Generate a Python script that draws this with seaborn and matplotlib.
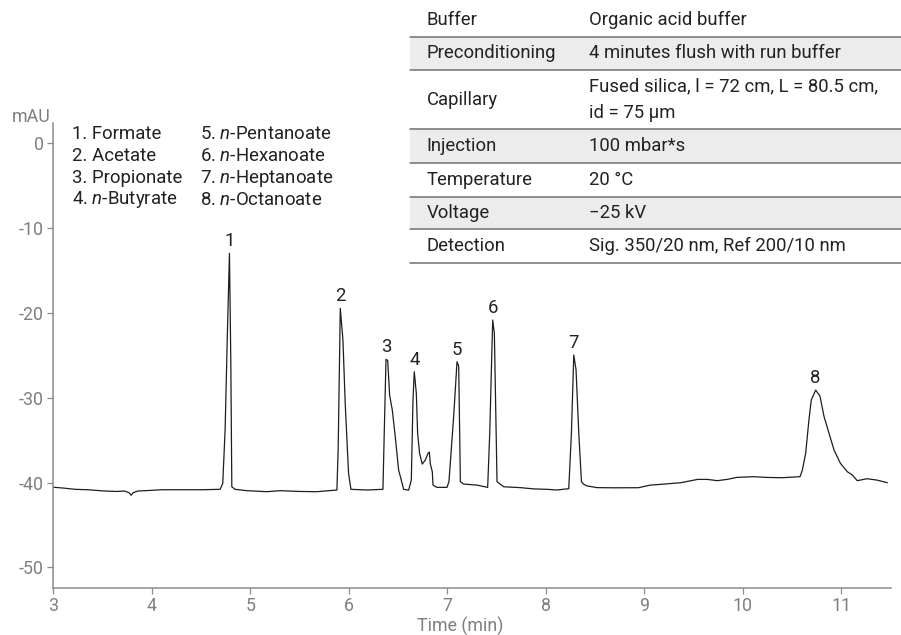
import matplotlib
matplotlib.use("Agg")
import matplotlib.pyplot as plt
import matplotlib.patches as mpatches
import matplotlib.lines as mlines
import seaborn as sns
import pandas as pd

# ---------------- data ----------------
time_min = [3.00, 3.10, 3.22, 3.35, 3.52, 3.65, 3.72, 3.77, 3.79, 3.81, 3.86, 3.95, 4.10, 4.30,
            4.50, 4.693, 4.720, 4.744, 4.768, 4.788, 4.802, 4.812, 4.846, 4.964, 5.167, 5.303,
            5.50, 5.675, 5.879, 5.892, 5.913, 5.940, 5.963, 5.997, 6.021, 6.184, 6.346, 6.360,
            6.377, 6.394, 6.414, 6.441, 6.471, 6.505, 6.556, 6.607, 6.634, 6.651, 6.664, 6.685,
            6.698, 6.718, 6.745, 6.776, 6.803, 6.817, 6.827, 6.847, 6.854, 6.894, 6.996, 7.016,
            7.064, 7.098, 7.115, 7.132, 7.165, 7.300, 7.409, 7.430, 7.460, 7.477, 7.504, 7.572,
            7.740, 7.877, 8.010, 8.114, 8.232, 8.259, 8.283, 8.306, 8.334, 8.361, 8.384, 8.418,
            8.520, 8.700, 8.940, 9.060, 9.160, 9.370, 9.540, 9.640, 9.740, 9.840, 9.940, 10.110,
            10.250, 10.400, 10.580, 10.603, 10.637, 10.670, 10.694, 10.738, 10.782, 10.823,
            10.874, 10.925, 10.990, 11.060, 11.110, 11.160, 11.260, 11.360, 11.466]
signal_mau = [-40.55, -40.65, -40.80, -40.85, -41.00, -41.05, -41.00, -41.20, -41.50, -41.20,
              -41.00, -40.95, -40.85, -40.85, -40.85, -40.80, -40.10, -33.80, -22.00, -12.97,
              -25.90, -40.50, -40.80, -40.96, -41.08, -40.96, -41.05, -41.08, -40.88, -35.80,
              -19.46, -23.20, -30.66, -38.90, -40.80, -40.88, -40.80, -33.80, -25.47, -25.60,
              -29.70, -31.45, -34.60, -38.50, -40.80, -40.90, -39.70, -30.27, -26.93, -29.50,
              -34.20, -36.56, -37.82, -37.35, -36.56, -36.40, -37.80, -38.73, -40.30, -40.57,
              -40.57, -39.90, -32.20, -25.75, -26.30, -39.90, -40.18, -40.30, -40.57, -34.20,
              -20.84, -22.40, -39.90, -40.50, -40.60, -40.75, -40.80, -40.88, -40.72, -34.20,
              -24.96, -26.70, -34.20, -39.90, -40.20, -40.40, -40.60, -40.62, -40.61, -40.30,
              -40.22, -40.02, -39.63, -39.63, -39.78, -39.63, -39.39, -39.31, -39.40, -39.43,
              -39.31, -38.53, -36.56, -32.60, -30.27, -29.10, -29.80, -32.20, -34.20, -36.17,
              -37.74, -38.73, -39.10, -39.78, -39.55, -39.71, -40.02]

peak_numbers = ["1", "2", "3", "4", "5", "6", "7", "8"]
peak_times = [4.788, 5.913, 6.385, 6.664, 7.098, 7.460, 8.283, 10.738]
peak_heights = [-12.97, -19.46, -25.47, -26.93, -25.75, -20.84, -24.96, -29.10]

compounds = ["Formate", "Acetate", "Propionate", "$n$-Butyrate",
             "$n$-Pentanoate", "$n$-Hexanoate", "$n$-Heptanoate", "$n$-Octanoate"]

table_params = ["Buffer", "Preconditioning", "Capillary", "Injection",
                "Temperature", "Voltage", "Detection"]
table_values = ["Organic acid buffer", "4 minutes flush with run buffer",
                "Fused silica, l = 72 cm, L = 80.5 cm,\nid = 75 µm", "100 mbar*s",
                "20 °C", "\u221225 kV", "Sig. 350/20 nm, Ref 200/10 nm"]

x_ticks = [3, 4, 5, 6, 7, 8, 9, 10, 11]
y_ticks = [0, -10, -20, -30, -40, -50]

# ---------------- style ----------------
sns.set_theme(style="ticks")
plt.rcParams["font.family"] = ["Roboto", "DejaVu Sans"]
plt.rcParams["mathtext.fontset"] = "custom"
plt.rcParams["mathtext.rm"] = "Roboto"
plt.rcParams["mathtext.it"] = "Roboto:italic"

W, H = 901, 635
fig = plt.figure(figsize=(W / 100, H / 100), dpi=100)
ax = fig.add_axes([53.3 / W, 1 - 587.7 / H, (890.7 - 53.3) / W, (587.7 - 122.7) / H])
ax.set_facecolor("none")

df = pd.DataFrame({"Time (min)": time_min, "mAU": signal_mau})
sns.lineplot(data=df, x="Time (min)", y="mAU", ax=ax, sort=False, estimator=None,
             color="#1e1e1e", linewidth=0.9)

ax.set_xlim(3, 11.5)
ax.set_ylim(-52.4, 2.43)
ax.set_xticks(x_ticks)
ax.set_yticks(y_ticks)
ax.set_yticklabels([str(v) for v in y_ticks])

spine_col = "#8c8c8c"
label_col = "#7f7f7f"
for s in ["top", "right"]:
    ax.spines[s].set_visible(False)
for s in ["left", "bottom"]:
    ax.spines[s].set_color(spine_col)
    ax.spines[s].set_linewidth(1.1)
ax.tick_params(axis="both", colors=spine_col, labelcolor=label_col, labelsize=12.8,
               length=4, width=0.9, pad=3)

ax.set_ylabel("")
ax.set_xlabel("Time (min)", fontsize=12.8, color=label_col, labelpad=1)
ax.xaxis.set_label_coords((459.7 - 53.3) / (890.7 - 53.3), -(626 - 587.7) / (587.7 - 122.7))
ax.xaxis.label.set_va("center")
fig.text(31 / W, 1 - 116.7 / H, "mAU", ha="center", va="center", fontsize=12.8, color=label_col)

# peak labels
for lab, t, h in zip(peak_numbers, peak_times, peak_heights):
    ax.annotate(lab, xy=(t, h), xytext=(0, 12), textcoords="offset pixels",
                ha="center", va="center", fontsize=13.3, color="#222222")

# compound key
text_col = "#222222"
row_y = [134, 156, 178, 200]
for i, name in enumerate(compounds):
    col = i // 4
    row = i % 4
    fig.text((71.7 if col == 0 else 200) / W, 1 - row_y[row] / H, f"{i + 1}. {name}",
             ha="left", va="center", fontsize=13.4, color=text_col)

# parameter table
row_bounds = [3, 36.7, 70, 129.3, 162.7, 196.7, 229.3, 263.3]
shaded = [False, True, False, True, False, True, False]
tx0, tx1 = 410, 901
for i in range(len(table_params)):
    top, bot = row_bounds[i], row_bounds[i + 1]
    if shaded[i]:
        fig.add_artist(mpatches.Rectangle((tx0 / W, 1 - bot / H), (tx1 - tx0) / W, (bot - top) / H,
                                          transform=fig.transFigure, facecolor="#ececec",
                                          edgecolor="none", zorder=1))
    yc = (top + bot) / 2
    fig.text(426.7 / W, 1 - yc / H, table_params[i], ha="left", va="center",
             fontsize=13.3, color=text_col, zorder=3)
    fig.text(589.3 / W, 1 - yc / H, table_values[i], ha="left", va="center",
             fontsize=13.3, color=text_col, linespacing=1.65, zorder=3)
for b in row_bounds[1:]:
    fig.add_artist(mlines.Line2D([tx0 / W, tx1 / W], [1 - b / H, 1 - b / H],
                                 transform=fig.transFigure, color="#707070", linewidth=1.1,
                                 zorder=2))

fig.savefig("out.png", dpi=100)
